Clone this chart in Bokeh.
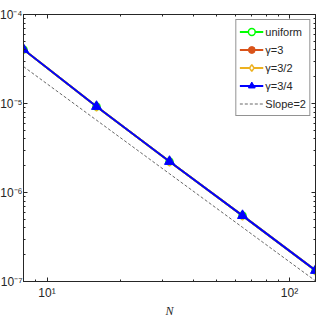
from bokeh.plotting import figure
from bokeh.models import LogAxis, FixedTicker, Legend, LegendItem
from bokeh.embed import file_html
from bokeh.resources import INLINE

N = [8, 16, 32, 64, 128]
err_uniform = [4.05e-5, 9.25e-6, 2.23e-6, 5.5e-7, 1.33e-7]
err_g3 = [4.05e-5, 9.25e-6, 2.23e-6, 5.5e-7, 1.33e-7]
err_g32 = [4.05e-5, 9.25e-6, 2.23e-6, 5.5e-7, 1.33e-7]
err_g34 = [4.05e-5, 9.25e-6, 2.23e-6, 5.5e-7, 1.33e-7]
slope2 = [2.6e-5, 6.5e-6, 1.625e-6, 4.06e-7, 1.016e-7]

xticks = [10, 100]
xminor = [8, 9, 20, 30, 40, 50, 60, 70, 80, 90]
xlabels = {10: "10¹", 100: "10²"}
yticks = [1e-7, 1e-6, 1e-5, 1e-4]
yminor = [k * 10.0 ** e for e in (-7, -6, -5) for k in range(2, 10)]
ylabels = {1e-7: "10⁻⁷", 1e-6: "10⁻⁶", 1e-5: "10⁻⁵", 1e-4: "10⁻⁴"}

FONT = "Liberation Sans"

p = figure(width=324, height=329, x_axis_type="log", y_axis_type="log",
           x_range=(8, 128), y_range=(1e-7, 1e-4),
           output_backend="svg", toolbar_location=None,
           min_border_left=24, min_border_right=5, min_border_top=18, min_border_bottom=44,
           styles={"margin-left": "-4px", "margin-top": "-4px", "margin-bottom": "-8px"})
p.grid.visible = False
p.outline_line_color = "#262626"
p.background_fill_color = "white"
p.border_fill_color = "white"

def style_axis(ax, labels, ticks, minor, show_labels=True):
    ax.ticker = FixedTicker(ticks=ticks, minor_ticks=minor)
    ax.major_tick_in = 4
    ax.major_tick_out = 0
    ax.minor_tick_in = 2
    ax.minor_tick_out = 0
    ax.axis_line_color = "#262626"
    ax.major_tick_line_color = "#262626"
    ax.minor_tick_line_color = "#262626"
    ax.major_label_text_font = FONT
    ax.major_label_text_font_size = "12px"
    ax.major_label_text_color = "#262626"
    ax.major_label_overrides = labels
    if not show_labels:
        ax.major_label_text_alpha = 0

xa = p.xaxis[0]
ya = p.yaxis[0]
style_axis(xa, xlabels, xticks, xminor)
style_axis(ya, ylabels, yticks, yminor)
ya.major_label_standoff = 1
xa.major_label_standoff = 4
xa.axis_label = "N"
xa.axis_label_text_font = "Liberation Serif"
xa.axis_label_text_font_style = "italic"
xa.axis_label_text_font_size = "12px"
xa.axis_label_text_color = "#262626"
xa.axis_label_standoff = 1

top = LogAxis()
right = LogAxis()
p.add_layout(top, "above")
p.add_layout(right, "right")
style_axis(top, xlabels, xticks, xminor, False)
style_axis(right, ylabels, yticks, yminor, False)
top.major_label_text_font_size = "0px"
right.major_label_text_font_size = "0px"
top.major_label_standoff = 0
right.major_label_standoff = 0

items = []
l1 = p.line(N, err_uniform, line_color="#00ff00", line_width=2)
m1 = p.scatter(N, err_uniform, marker="circle", size=7, line_color="#00ff00", fill_color="white", line_width=1.5)
items.append(LegendItem(label="uniform", renderers=[l1, m1]))
l2 = p.line(N, err_g3, line_color="#D95319", line_width=2)
m2 = p.scatter(N, err_g3, marker="circle", size=5, line_color="#D95319", fill_color="#D95319")
items.append(LegendItem(label="γ=3", renderers=[l2, m2]))
l3 = p.line(N, err_g32, line_color="#EDB120", line_width=2)
m3 = p.scatter(N, err_g32, marker="diamond", size=9, line_color="#EDB120", fill_color="white", line_width=1.5)
items.append(LegendItem(label="γ=3/2", renderers=[l3, m3]))
l4 = p.line(N, err_g34, line_color="#0000ff", line_width=2)
m4 = p.scatter(N, err_g34, marker="triangle", size=10, line_color="#0000ff", fill_color="#0000ff")
items.append(LegendItem(label="γ=3/4", renderers=[l4, m4]))
l5 = p.line(N, slope2, line_color="#404040", line_width=0.8, line_dash="3 2")
items.append(LegendItem(label="Slope=2", renderers=[l5]))

legend = Legend(items=items, location="top_right")
legend.label_text_font = FONT
legend.label_text_font_size = "11px"
legend.label_text_color = "#262626"
legend.label_standoff = 2
legend.label_height = 17
legend.glyph_height = 17
legend.glyph_width = 24
legend.spacing = 1
legend.padding = 3
legend.margin = 5
legend.border_line_color = "#262626"
legend.border_line_width = 1
legend.background_fill_alpha = 1
p.add_layout(legend)

open("out.html", "w").write(file_html(p, INLINE))
